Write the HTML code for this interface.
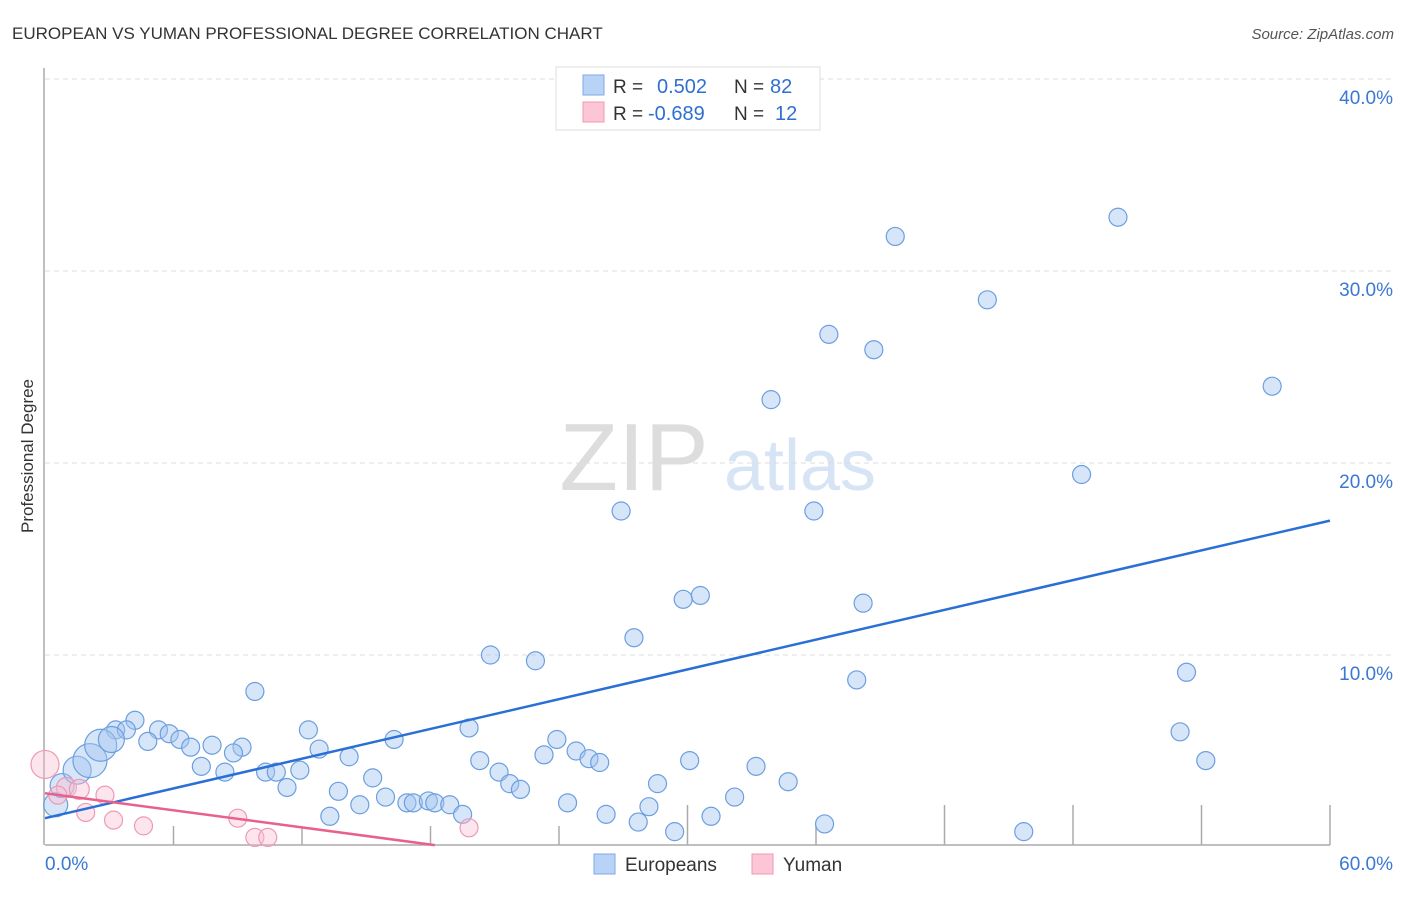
<!DOCTYPE html>
<html><head><meta charset="utf-8"><style>
body{margin:0;background:#fff;font-family:"Liberation Sans",sans-serif}
svg text{font-family:"Liberation Sans",sans-serif}
</style></head><body>
<svg id="c" width="1406" height="892" xmlns="http://www.w3.org/2000/svg">
<text x="12" y="39" font-size="17" fill="#333">EUROPEAN VS YUMAN PROFESSIONAL DEGREE CORRELATION CHART</text>
<text x="1394" y="39" font-size="15" fill="#555" font-style="italic" text-anchor="end">Source: ZipAtlas.com</text>
<text x="33" y="456" font-size="17" fill="#333" transform="rotate(-90 33 456)" text-anchor="middle">Professional Degree</text>
<g><text x="634" y="490" font-size="96" fill="#ddd" font-family="Liberation Serif" text-anchor="middle">ZIP</text><text x="800" y="490" font-size="72" fill="#d6e4f5" text-anchor="middle">atlas</text></g>
<g id="grid"></g><g id="axes"></g><g id="pts"></g><g id="lines"></g>
<g>
<rect x="556" y="67" width="264" height="63" fill="#fff" stroke="#ddd"/>
<rect x="583" y="75" width="21" height="20" fill="#b8d3f5" stroke="#7fa9e6"/>
<rect x="583" y="102" width="21" height="20" fill="#fcc6d6" stroke="#ee9ab3"/>
<text x="613" y="93" font-size="19" fill="#333">R =</text><text x="657" y="93" font-size="20" fill="#2f6fd0">0.502</text>
<text x="734" y="93" font-size="19" fill="#333">N =</text><text x="770" y="93" font-size="20" fill="#2f6fd0">82</text>
<text x="613" y="120" font-size="19" fill="#333">R =</text><text x="648" y="120" font-size="20" fill="#2f6fd0">-0.689</text>
<text x="734" y="120" font-size="19" fill="#333">N =</text><text x="775" y="120" font-size="20" fill="#2f6fd0">12</text>
</g>
<g>
<rect x="594" y="854" width="21" height="20" fill="#b8d3f5" stroke="#7fa9e6"/>
<text x="625" y="871" font-size="19" fill="#333">Europeans</text>
<rect x="752" y="854" width="21" height="20" fill="#fcc6d6" stroke="#ee9ab3"/>
<text x="783" y="871" font-size="19" fill="#333">Yuman</text>
</g>
</svg>
<script>
const yTicks=[10,20,30,40];
const xTickLabels=["0.0%","60.0%"];
const euX=[39.7,50.1,44.0,36.6,38.7,33.9,57.3,48.4,26.9,35.9,30.6,29.8,38.2,27.5,20.8,22.9,37.9,53.3,9.8,53.0,54.2,12.3,19.8,4.2,3.3,3.8,5.3,5.8,4.8,6.3,6.8,7.8,9.2,8.8,12.8,16.3,14.2,23.9,23.3,24.8,25.4,25.9,20.3,21.2,30.1,33.2,7.3,8.4,10.3,10.8,11.9,15.3,11.3,13.7,21.7,22.2,28.6,34.7,15.9,14.7,16.9,17.2,17.9,18.2,18.9,19.5,24.4,28.2,32.2,13.3,26.2,27.7,31.1,29.4,36.4,45.7,0.5,0.8,1.5,2.1,2.6,3.1];
const euY=[31.8,32.8,28.5,26.7,25.9,23.3,24.0,19.4,17.5,17.5,13.1,12.9,12.7,10.9,10.0,9.7,8.7,9.1,8.1,6.0,4.5,6.1,6.2,6.6,6.1,6.1,6.1,5.9,5.5,5.6,5.2,5.3,5.2,4.9,5.1,5.6,4.7,5.6,4.8,5.0,4.6,4.4,4.5,3.9,4.5,4.2,4.2,3.9,3.9,3.9,4.0,3.6,3.1,2.9,3.3,3.0,3.3,3.4,2.6,2.2,2.3,2.3,2.4,2.3,2.2,1.7,2.3,2.1,2.6,1.6,1.7,1.3,1.6,0.8,1.2,0.8,2.2,3.2,4.0,4.5,5.3,5.6];
const euR=[9,9,9,9,9,9,9,9,9,9,9,9,9,9,9,9,9,9,9,9,9,9,9,9,9,9,9,9,9,9,9,9,9,9,9,9,9,9,9,9,9,9,9,9,9,9,9,9,9,9,9,9,9,9,9,9,9,9,9,9,9,9,9,9,9,9,9,9,9,9,9,9,9,9,9,9,12,12,14,17,16,13];
const yuX=[0.0,1.0,1.6,2.8,1.9,3.2,4.6,9.0,9.8,10.4,19.8,0.6];
const yuY=[4.3,3.1,3.0,2.7,1.8,1.4,1.1,1.5,0.5,0.5,1.0,2.7];
const yuR=[14,10,10,9,9,9,9,9,9,9,9,9];
const euLine=[0,1.5,60,17.0];
const yuLine=[0,2.8,18.2,0.1];
const NS="http://www.w3.org/2000/svg";
const X=v=>45+v/60*1285, Y=v=>847-v*19.2;
function mk(p,t,a){const e=document.createElementNS(NS,t);for(const k in a)e.setAttribute(k,a[k]);document.getElementById(p).appendChild(e);return e;}
yTicks.forEach(t=>{const l=mk('grid','line',{x1:45,x2:1394,y1:Y(t),y2:Y(t),stroke:'#ddd','stroke-dasharray':'5,4'});


const tx=mk('grid','text',{x:1393,y:Y(t)+25,'font-size':19,fill:'#3a78d4','text-anchor':'end'});tx.textContent=t.toFixed(1)+'%';

});
const ax=mk('axes','line',{x1:45,x2:1330,y1:845,y2:845,stroke:'#aaa','stroke-width':1.5});


const ay=mk('axes','line',{x1:44,x2:44,y1:68,y2:845,stroke:'#aaa','stroke-width':1.5});


for(let i=1;i<=10;i++){const t=mk('axes','line',{x1:X(i*6),x2:X(i*6),y1:(i<5||i==6)?826:805,y2:845,stroke:'#aaa','stroke-width':1.5});

}
[[0,45,'start'],[60,1393,'end']].forEach((d,i)=>{const t=mk('axes','text',{x:d[1],y:870,'font-size':19,fill:'#3a78d4','text-anchor':d[2]});t.textContent=xTickLabels[i];

});
euX.forEach((v,i)=>{const c=mk('pts','circle',{cx:X(v),cy:Y(euY[i]),r:euR[i],fill:'rgba(165,198,240,0.45)',stroke:'#6c9fe0','stroke-width':1.2});

});
yuX.forEach((v,i)=>{const c=mk('pts','circle',{cx:X(v),cy:Y(yuY[i]),r:yuR[i],fill:'rgba(250,190,210,0.4)',stroke:'#ee9ab3','stroke-width':1.2});

});
const l1=mk('lines','line',{x1:X(euLine[0]),y1:Y(euLine[1]),x2:X(euLine[2]),y2:Y(euLine[3]),stroke:'#2a6fd6','stroke-width':2.5});


const l2=mk('lines','line',{x1:X(yuLine[0]),y1:Y(yuLine[1]),x2:X(yuLine[2]),y2:Y(yuLine[3]),stroke:'#e8608e','stroke-width':2.5});


</script>
</body></html>
